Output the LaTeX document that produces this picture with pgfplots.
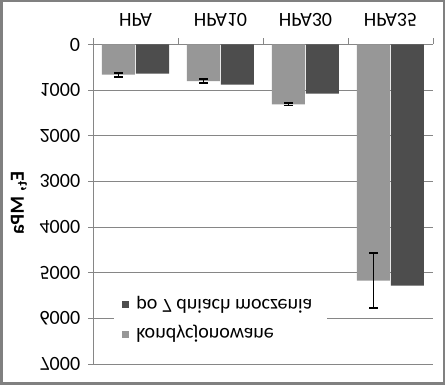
\documentclass[border=0pt]{standalone}
\usepackage{pgfplots}
\pgfplotsset{compat=1.18}
\usepackage{fontspec}
\setmainfont{Carlito}
\definecolor{lightbar}{HTML}{979797}
\definecolor{darkbar}{HTML}{4D4D4D}
\definecolor{gridc}{HTML}{868686}
\definecolor{framec}{HTML}{808080}
\begin{document}
\fontsize{20}{24}\selectfont
\begin{tikzpicture}[x=1pt,y=1pt]
\useasboundingbox (0,0) rectangle (445,385);
\begin{scope}[transform canvas={yshift=385pt,yscale=-1}]
\fill[white] (0,0) rectangle (445,385);
\draw[framec, line width=2.5pt] (1.25,1.25) rectangle (443.75,383.75);
\begin{axis}[
  at={(93pt,44.5pt)}, anchor=south west,
  scale only axis, width=340pt, height=319.5pt,
  xmin=-0.5, xmax=3.5, ymin=0, ymax=7000,
  axis lines*=left,
  axis line style={gridc, line width=0.8pt},
  ybar=1pt, bar width=33pt,
  xtick={0,1,2,3},
  xticklabels={HPA,HPA10,HPA30,HPA35},
  minor xtick={-0.5,0.5,1.5,2.5,3.5},
  major x tick style={draw=none},
  minor x tick style={gridc, line width=0.8pt},
  minor tick length=6pt,
  tick align=outside,
  ytick={0,1000,...,7000},
  major y tick style={gridc, line width=0.8pt},
  major tick length=5pt,
  ymajorgrids,
  grid style={gridc, line width=0.8pt},
  /pgf/number format/assume math mode=true,
  /pgf/number format/1000 sep={},
  yticklabel style={anchor=east, xshift=-1pt},
  xticklabel style={anchor=center, yshift=-20pt},
  legend style={at={(0.062,0.953)}, anchor=north west, draw=none, fill=white,
    row sep=9pt, inner xsep=8pt, inner ysep=4pt,
    nodes={inner xsep=7pt}},
  legend cell align=left,
  legend image code/.code={\fill[#1,draw=none] (0pt,-3.5pt) rectangle (7pt,3.5pt);},
]
\addplot[fill=lightbar, draw=none,
  error bars/.cd, y dir=both, y explicit,
  error bar style={black, line width=1.8pt},
  error mark options={black, line width=1.8pt, mark size=4.5pt, rotate=90}]
  coordinates {(0,662) +- (0,45) (1,800) +- (0,40) (2,1310) +- (0,25) (3,5175) +- (0,600)};
\addplot[fill=darkbar, draw=none]
  coordinates {(0,640) (1,881) (2,1078) (3,5285)};
\legend{kondycjonowane, po 7 dniach moczenia}
\end{axis}
\node[rotate=90, font=\bfseries] at (19,203) {E\textsubscript{t}, MPa};
\end{scope}
\end{tikzpicture}
\end{document}
